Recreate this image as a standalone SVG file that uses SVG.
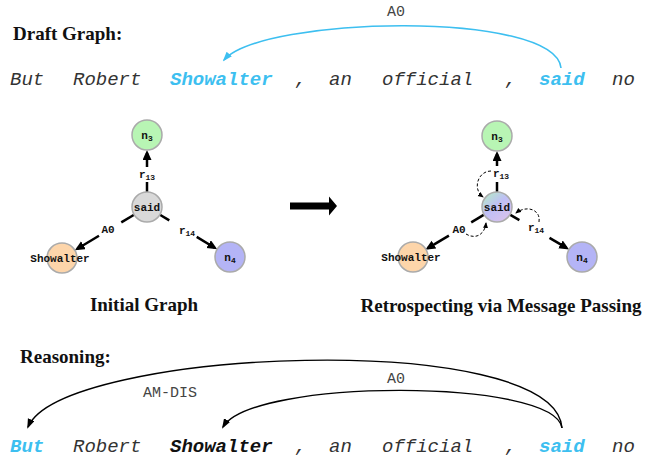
<svg xmlns="http://www.w3.org/2000/svg" width="658" height="462" viewBox="0 0 658 462">
  <style>
    .word { font-family: "Liberation Mono", "Courier New", monospace; font-style: italic; font-size: 19px; fill: #333; }
    .hl { font-weight: bold; fill: #3dbff0; }
    .strong { font-weight: bold; fill: #111; }
    .head { font-family: "Liberation Serif", "Times New Roman", serif; font-weight: bold; font-size: 19px; fill: #111; }
    .arcl { font-family: "Liberation Mono", "Courier New", monospace; font-size: 15px; fill: #444; text-anchor: middle; }
    .node circle { stroke: #aaa; stroke-width: 1.5; }
    .nl { font-family: "Liberation Mono", "Courier New", monospace; font-weight: bold; font-size: 11px; fill: #111; text-anchor: middle; }
    .el { font-family: "Liberation Mono", "Courier New", monospace; font-weight: bold; font-size: 11px; fill: #111; text-anchor: middle; }
    .sub { font-size: 8px; }
    .edge { stroke: #000; stroke-width: 2.5; fill: none; }
    .arc { stroke: #000; stroke-width: 1.4; fill: none; }
    .arc-blue { stroke: #3dbff0; stroke-width: 1.6; fill: none; }
    .loop { stroke: #000; stroke-width: 1; stroke-dasharray: 3 2; fill: none; }
  </style>
  <defs>
    <marker id="ah-edge" markerUnits="userSpaceOnUse" markerWidth="10" markerHeight="10" refX="7" refY="4.5" orient="auto">
      <path d="M0,0 L10,4.5 L0,9 z" fill="#000"/>
    </marker>
    <marker id="ah-arc" markerUnits="userSpaceOnUse" markerWidth="10" markerHeight="8" refX="8" refY="3.5" orient="auto">
      <path d="M0,0 L10,3.5 L0,7 z" fill="#000"/>
    </marker>
    <marker id="ah-blue" markerUnits="userSpaceOnUse" markerWidth="10" markerHeight="8" refX="8" refY="3.5" orient="auto">
      <path d="M0,0 L10,3.5 L0,7 z" fill="#3dbff0"/>
    </marker>
    <marker id="ah-loop" markerUnits="userSpaceOnUse" markerWidth="6" markerHeight="6" refX="5" refY="2.5" orient="auto">
      <path d="M0,0 L6,2.5 L0,5 z" fill="#000"/>
    </marker>
    <!-- blended fill for the updated predicate node -->
    <linearGradient id="mix" x1="0.1" y1="0" x2="0.9" y2="1">
      <stop offset="0" stop-color="#b4ecc4"/>
      <stop offset="0.45" stop-color="#bfbff6"/>
      <stop offset="1" stop-color="#dcc2ea"/>
    </linearGradient>
  </defs>

  <!-- Draft graph sentence -->
  <text class="head" x="13" y="40">Draft Graph:</text>
  <g id="draft-tokens">
    <text class="word" x="10" y="85">But</text>
    <text class="word" x="73" y="85">Robert</text>
    <text class="word hl" x="170" y="85">Showalter</text>
    <text class="word" x="295" y="85">,</text>
    <text class="word" x="329" y="85">an</text>
    <text class="word" x="382" y="85">official</text>
    <text class="word" x="505" y="85">,</text>
    <text class="word hl" x="539" y="85">said</text>
    <text class="word" x="612" y="85">no</text>
  </g>
  <g id="draft-arcs">
    <path class="arc-blue" d="M561,68 C555,10 262,16 224,60" marker-end="url(#ah-blue)"/>
    <text class="arcl" x="396" y="16">A0</text>
  </g>

  <!-- Initial graph -->
  <g id="init-edges">
    <line class="edge" x1="147" y1="192" x2="147" y2="182"/>
    <line class="edge" x1="147" y1="167" x2="147" y2="153" marker-end="url(#ah-edge)"/>
    <line class="edge" x1="134.1" y1="214.7" x2="121.3" y2="222.4"/>
    <line class="edge" x1="99" y1="235.8" x2="77.4" y2="248.8" marker-end="url(#ah-edge)"/>
    <line class="edge" x1="159.9" y1="214.7" x2="169.3" y2="220.4"/>
    <line class="edge" x1="196.7" y1="236.9" x2="214.6" y2="247.7" marker-end="url(#ah-edge)"/>
    <text class="el" x="147" y="178">r<tspan class="sub" dy="2">13</tspan></text>
    <text class="el" x="108" y="233">A0</text>
    <text class="el" x="187" y="234">r<tspan class="sub" dy="2">14</tspan></text>
  </g>
  <g id="init-n3" class="node">
    <circle cx="147" cy="135" r="15" fill="#b8f5b4"/>
    <text class="nl" x="147" y="139">n<tspan class="sub" dy="2">3</tspan></text>
  </g>
  <g id="init-said" class="node">
    <circle cx="147" cy="207" r="15" fill="#d9d9d9"/>
    <text class="nl" x="147" y="211">said</text>
  </g>
  <g id="init-showalter" class="node">
    <circle cx="62" cy="258" r="15" fill="#fdd5aa"/>
    <text class="nl" x="60" y="262">Showalter</text>
  </g>
  <g id="init-n4" class="node">
    <circle cx="230" cy="257" r="15" fill="#b4b4f6"/>
    <text class="nl" x="230" y="261">n<tspan class="sub" dy="2">4</tspan></text>
  </g>
  <text class="head" x="144" y="311" text-anchor="middle">Initial Graph</text>

  <!-- Transition arrow -->
  <g id="transition">
    <path d="M290,202.5 H329 V196.5 L337,206 L329,215.5 V209.5 H290 z" fill="#000"/>
  </g>

  <!-- Message passing graph -->
  <g id="mp-edges">
    <line class="edge" x1="497" y1="192" x2="497" y2="182"/>
    <line class="edge" x1="497" y1="166" x2="497" y2="154" marker-end="url(#ah-edge)"/>
    <line class="edge" x1="484.1" y1="214.7" x2="471.2" y2="222.3"/>
    <line class="edge" x1="448.9" y1="235.6" x2="427.9" y2="248.1" marker-end="url(#ah-edge)"/>
    <line class="edge" x1="509.9" y1="214.6" x2="519.4" y2="220.2"/>
    <line class="edge" x1="549.5" y1="237.9" x2="566.5" y2="247.9" marker-end="url(#ah-edge)"/>
    <text class="el" x="501" y="177">r<tspan class="sub" dy="2">13</tspan></text>
    <text class="el" x="459" y="233">A0</text>
    <text class="el" x="536" y="231">r<tspan class="sub" dy="2">14</tspan></text>
  </g>
  <g id="mp-loops">
    <path class="loop" d="M491,171 C478,171 472,189 483,197" marker-end="url(#ah-loop)"/>
    <path class="loop" d="M539,222 C541,209 526,205 516,213" marker-end="url(#ah-loop)"/>
    <path class="loop" d="M466,234 C476,240 485,234 486,223" marker-end="url(#ah-loop)"/>
  </g>
  <g id="mp-n3" class="node">
    <circle cx="497" cy="136" r="15" fill="#b8f5b4"/>
    <text class="nl" x="497" y="140">n<tspan class="sub" dy="2">3</tspan></text>
  </g>
  <g id="mp-said" class="node">
    <circle cx="497" cy="207" r="15" fill="url(#mix)"/>
    <text class="nl" x="497" y="211">said</text>
  </g>
  <g id="mp-showalter" class="node">
    <circle cx="413" cy="257" r="15" fill="#fdd5aa"/>
    <text class="nl" x="411" y="261">Showalter</text>
  </g>
  <g id="mp-n4" class="node">
    <circle cx="582" cy="257" r="15" fill="#b4b4f6"/>
    <text class="nl" x="582" y="261">n<tspan class="sub" dy="2">4</tspan></text>
  </g>
  <text class="head" x="501" y="312" text-anchor="middle">Retrospecting via Message Passing</text>

  <!-- Reasoning sentence -->
  <text class="head" x="20" y="363">Reasoning:</text>
  <g id="reason-arcs">
    <path class="arc" d="M562,428 C555,328 62,348 28,427" marker-end="url(#ah-arc)"/>
    <path class="arc" d="M562,428 C555,378 252,378 223,427" marker-end="url(#ah-arc)"/>
    <text class="arcl" x="170" y="397">AM-DIS</text>
    <text class="arcl" x="396" y="383">A0</text>
  </g>
  <g id="reason-tokens">
    <text class="word hl" x="10" y="452">But</text>
    <text class="word" x="73" y="452">Robert</text>
    <text class="word strong" x="170" y="452">Showalter</text>
    <text class="word" x="295" y="452">,</text>
    <text class="word" x="329" y="452">an</text>
    <text class="word" x="382" y="452">official</text>
    <text class="word" x="505" y="452">,</text>
    <text class="word hl" x="539" y="452">said</text>
    <text class="word" x="612" y="452">no</text>
  </g>
</svg>
